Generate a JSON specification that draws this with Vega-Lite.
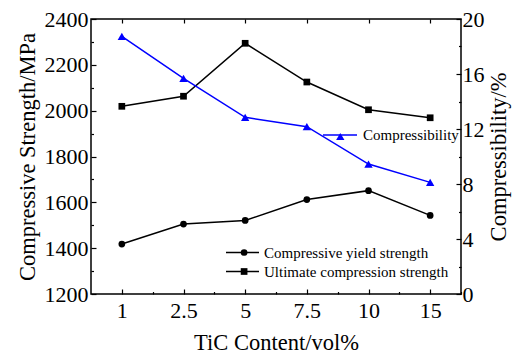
{
  "$schema": "https://vega.github.io/schema/vega-lite/v6.json",
  "width": 370,
  "height": 275,
  "autosize": {"type": "none"},
  "padding": {"left": 91, "top": 19, "right": 61, "bottom": 62},
  "background": "white",
  "config": {
    "view": {"stroke": "black", "strokeWidth": 1.5},
    "font": "Liberation Serif",
    "axis": {
      "domain": false, "grid": false, "labelFont": "Liberation Serif", "titleFont": "Liberation Serif",
      "labelColor": "black", "titleColor": "black", "tickColor": "black", "tickWidth": 1.2,
      "titleFontWeight": "normal", "labelFontSize": 22, "titleFontSize": 22.5
    },
    "legend": {"labelFont": "Liberation Serif", "labelFontSize": 15, "labelColor": "black", "labelLimit": 400, "padding": 0, "title": null}
  },
  "datasets": {
    "strength": [
      {"tic": "1", "series": "Compressive yield strength", "value": 1418},
      {"tic": "2.5", "series": "Compressive yield strength", "value": 1505},
      {"tic": "5", "series": "Compressive yield strength", "value": 1521},
      {"tic": "7.5", "series": "Compressive yield strength", "value": 1612},
      {"tic": "10", "series": "Compressive yield strength", "value": 1651},
      {"tic": "15", "series": "Compressive yield strength", "value": 1543},
      {"tic": "1", "series": "Ultimate compression strength", "value": 2019},
      {"tic": "2.5", "series": "Ultimate compression strength", "value": 2063},
      {"tic": "5", "series": "Ultimate compression strength", "value": 2294},
      {"tic": "7.5", "series": "Ultimate compression strength", "value": 2125},
      {"tic": "10", "series": "Ultimate compression strength", "value": 2004},
      {"tic": "15", "series": "Ultimate compression strength", "value": 1969}
    ],
    "compress": [
      {"tic": "1", "series": "Compressibility", "value": 18.74},
      {"tic": "2.5", "series": "Compressibility", "value": 15.68},
      {"tic": "5", "series": "Compressibility", "value": 12.85},
      {"tic": "7.5", "series": "Compressibility", "value": 12.17},
      {"tic": "10", "series": "Compressibility", "value": 9.45},
      {"tic": "15", "series": "Compressibility", "value": 8.12}
    ]
  },
  "layer": [
    {
      "data": {"name": "strength"},
      "transform": [{"filter": "datum.series === 'Compressive yield strength'"}],
      "mark": {"type": "line", "strokeWidth": 1.5},
      "encoding": {
        "x": {"field": "tic", "type": "ordinal", "sort": ["1", "2.5", "5", "7.5", "10", "15"],
              "scale": {"type": "point", "padding": 0.5},
              "axis": {"orient": "bottom", "title": "TiC Content/vol%", "labelAngle": 0, "tickSize": -5, "labelPadding": 11, "titlePadding": 10}},
        "y": {"field": "value", "type": "quantitative", "scale": {"domain": [1200, 2400], "nice": false, "zero": false},
              "axis": {"orient": "left", "title": "Compressive Strength/MPa", "format": "d", "values": [1200, 1400, 1600, 1800, 2000, 2200, 2400], "tickSize": -5, "labelPadding": 8, "titlePadding": 5}},
        "color": {"field": "series", "type": "nominal",
                  "scale": {"domain": ["Compressive yield strength"], "range": ["black"]},
                  "legend": {"orient": "none", "legendX": 134, "legendY": 216, "symbolType": "stroke", "symbolSize": 1089,
                             "symbolStrokeWidth": 1.5, "labelOffset": 4}}
      }
    },
    {
      "data": {"name": "strength"},
      "transform": [{"filter": "datum.series === 'Ultimate compression strength'"}],
      "mark": {"type": "line", "strokeWidth": 1.5},
      "encoding": {
        "x": {"field": "tic", "type": "ordinal", "sort": ["1", "2.5", "5", "7.5", "10", "15"],
              "scale": {"type": "point", "padding": 0.5}, "axis": null},
        "y": {"field": "value", "type": "quantitative", "scale": {"domain": [1200, 2400], "nice": false, "zero": false}, "axis": null},
        "color": {"field": "series", "type": "nominal",
                  "scale": {"domain": ["Ultimate compression strength"], "range": ["black"]},
                  "legend": {"orient": "none", "legendX": 134, "legendY": 235, "symbolType": "stroke", "symbolSize": 1089,
                             "symbolStrokeWidth": 1.5, "labelOffset": 4}}
      }
    },
    {
      "data": {"name": "strength"},
      "transform": [{"filter": "datum.series === 'Compressive yield strength'"}],
      "mark": {"type": "point", "filled": true, "color": "black", "opacity": 1, "size": 45},
      "encoding": {
        "x": {"field": "tic", "type": "ordinal", "sort": ["1", "2.5", "5", "7.5", "10", "15"],
              "scale": {"type": "point", "padding": 0.5},
              "axis": {"orient": "bottom", "title": null, "labels": false, "tickSize": -2.5, "tickOffset": 30.83}},
        "y": {"field": "value", "type": "quantitative", "scale": {"domain": [1200, 2400], "nice": false, "zero": false},
              "axis": {"orient": "left", "title": null, "labels": false, "values": [1300, 1500, 1700, 1900, 2100, 2300], "tickSize": -2.5}},
        "shape": {"field": "series", "type": "nominal",
                  "scale": {"domain": ["Compressive yield strength"], "range": ["circle"]},
                  "legend": {"orient": "none", "legendX": 145.6, "legendY": 226, "symbolSize": 45, "symbolOpacity": 1,
                             "symbolFillColor": "black", "labelExpr": "''"}}
      }
    },
    {
      "data": {"name": "strength"},
      "transform": [{"filter": "datum.series === 'Ultimate compression strength'"}],
      "mark": {"type": "point", "filled": true, "color": "black", "opacity": 1, "size": 45},
      "encoding": {
        "x": {"field": "tic", "type": "ordinal", "sort": ["1", "2.5", "5", "7.5", "10", "15"],
              "scale": {"type": "point", "padding": 0.5},
              "axis": {"orient": "top", "title": null, "labels": false, "tickSize": -4}},
        "y": {"field": "value", "type": "quantitative", "scale": {"domain": [1200, 2400], "nice": false, "zero": false}, "axis": null},
        "shape": {"field": "series", "type": "nominal",
                  "scale": {"domain": ["Ultimate compression strength"], "range": ["square"]},
                  "legend": {"orient": "none", "legendX": 145.6, "legendY": 245, "symbolSize": 45, "symbolOpacity": 1,
                             "symbolFillColor": "black", "labelExpr": "''"}}
      }
    },
    {
      "data": {"name": "compress"},
      "mark": {"type": "line", "strokeWidth": 1.5},
      "encoding": {
        "x": {"field": "tic", "type": "ordinal", "sort": ["1", "2.5", "5", "7.5", "10", "15"],
              "scale": {"type": "point", "padding": 0.5}, "axis": null},
        "y": {"field": "value", "type": "quantitative", "scale": {"domain": [0, 20], "nice": false},
              "axis": {"orient": "right", "title": "Compressibility/%", "values": [0, 4, 8, 12, 16, 20], "tickSize": -5, "labelPadding": 6, "titlePadding": 3, "titleAngle": 270, "titleBaseline": "top"}},
        "color": {"field": "series", "type": "nominal", "scale": {"domain": ["Compressibility"], "range": ["#0000ff"]},
                  "legend": {"orient": "none", "legendX": 231, "legendY": 98, "symbolType": "stroke", "symbolSize": 1156,
                             "symbolStrokeWidth": 1.5, "labelOffset": 5}}
      }
    },
    {
      "data": {"name": "compress"},
      "mark": {"type": "point", "filled": true, "color": "#0000ff", "opacity": 1, "size": 70},
      "encoding": {
        "x": {"field": "tic", "type": "ordinal", "sort": ["1", "2.5", "5", "7.5", "10", "15"],
              "scale": {"type": "point", "padding": 0.5}, "axis": null},
        "y": {"field": "value", "type": "quantitative", "scale": {"domain": [0, 20], "nice": false},
              "axis": {"orient": "right", "title": null, "labels": false, "values": [2, 6, 10, 14, 18], "tickSize": -2.5}},
        "shape": {"field": "series", "type": "nominal", "scale": {"domain": ["Compressibility"], "range": ["triangle-up"]},
                  "legend": {"orient": "none", "legendX": 241.8, "legendY": 110, "symbolSize": 70, "symbolOpacity": 1,
                             "symbolFillColor": "#0000ff", "labelExpr": "''"}}
      }
    }
  ],
  "resolve": {"scale": {"y": "independent", "shape": "independent", "color": "independent"}, "axis": {"x": "independent", "y": "independent"}}
}
